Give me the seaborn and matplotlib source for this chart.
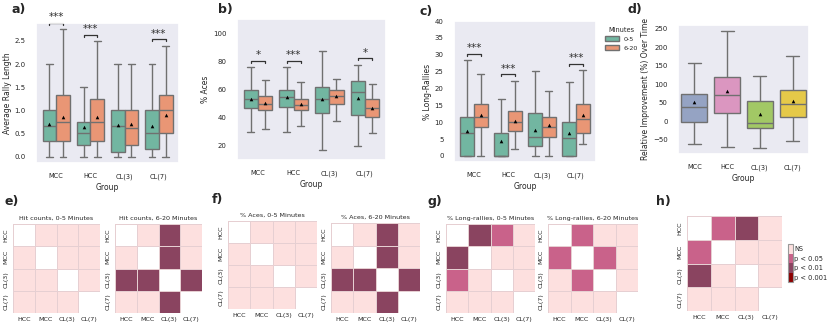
import numpy as np
import pandas as pd
import matplotlib.pyplot as plt
from matplotlib.colors import ListedColormap
import seaborn as sns

groups = ["MCC", "HCC", "CL(3)", "CL(7)"]
minutes = ["0-5", "6-20"]

# five-number summaries per group: min, q1, median, q3, max
rally_05 = [[0, 0.33, 0.66, 1.0, 2.0], [0, 0.25, 0.5, 0.75, 1.5],
            [0, 0.10, 0.66, 1.0, 2.0], [0, 0.17, 0.5, 1.0, 2.0]]
rally_620 = [[0, 0.33, 0.75, 1.33, 2.75], [0, 0.33, 0.75, 1.25, 2.5],
             [0, 0.25, 0.62, 1.0, 2.0], [0, 0.5, 1.0, 1.33, 2.4]]
rally_mean_05 = [0.71, 0.65, 0.69, 0.67]
rally_mean_620 = [0.85, 0.85, 0.70, 0.91]
rally_sig = ["***", "***", "", "***"]

aces_05 = [[30.1, 46.6, 53.0, 60.0, 75.8], [30.0, 47.8, 54.6, 60.0, 75.8],
           [17.0, 43.0, 53.6, 62.1, 87.0], [20.0, 41.9, 58.1, 65.9, 77.6]]
aces_620 = [[31.8, 45.4, 49.9, 55.3, 66.6], [34.1, 45.2, 49.2, 53.6, 65.4],
            [37.6, 49.9, 55.3, 59.5, 67.8], [29.4, 40.5, 46.6, 53.2, 64.2]]
aces_mean_05 = [53.4, 54.4, 53.4, 53.9]
aces_mean_620 = [50.4, 49.4, 55.3, 46.6]
aces_sig = ["*", "***", "", "*"]

long_05 = [[0, 0, 6.7, 11.6, 28.4], [0, 0, 0, 6.7, 16.8],
           [0, 3.0, 5.7, 12.6, 25.1], [0, 0, 5.2, 10.1, 21.8]]
long_620 = [[0, 8.5, 11.6, 15.4, 24.4], [2.2, 7.4, 10.1, 13.3, 22.3],
            [0, 5.7, 8.5, 11.6, 19.3], [3.4, 6.9, 10.9, 15.3, 25.4]]
long_mean_05 = [7.4, 4.5, 7.7, 6.9]
long_mean_620 = [12.0, 10.4, 9.2, 12.1]
long_sig = ["***", "***", "", "***"]

improve = [[-60.7, -1.8, 38.4, 73.2, 156.0], [-69.6, 20.5, 69.6, 119.6, 243.8],
           [-73.2, -19.6, -5.4, 55.4, 121.4], [-53.6, 10.7, 46.4, 83.0, 176.8]]
improve_mean = [50.9, 82.1, 19.6, 54.5]

# pairwise significance codes: 0 NS, 1 p<0.05, 2 p<0.01, 3 p<0.001
hm_labels = ["HCC", "MCC", "CL(3)", "CL(7)"]
nan = np.nan
hits_05 = [[nan, 0, 0, 0], [0, nan, 0, 0], [0, 0, nan, 0], [0, 0, 0, nan]]
hits_620 = [[nan, 0, 2, 0], [0, nan, 2, 0], [2, 2, nan, 2], [0, 0, 2, nan]]
acesp_05 = [[nan, 0, 0, 0], [0, nan, 0, 0], [0, 0, nan, 0], [0, 0, 0, nan]]
acesp_620 = [[nan, 0, 2, 0], [0, nan, 2, 0], [2, 2, nan, 2], [0, 0, 2, nan]]
longp_05 = [[nan, 2, 1, 0], [2, nan, 0, 0], [1, 0, nan, 0], [0, 0, 0, nan]]
longp_620 = [[nan, 1, 0, 0], [1, nan, 1, 0], [0, 1, nan, 0], [0, 0, 0, nan]]
improvep = [[nan, 1, 2, 0], [1, nan, 0, 0], [2, 0, nan, 0], [0, 0, 0, nan]]
sig_labels = ["NS", "p < 0.05", "p < 0.01", "p < 0.001"]

sns.set_theme(style="dark")
plt.rcParams['font.family'] = ['DejaVu Sans']
plt.rcParams['axes.labelsize'] = 5.5
plt.rcParams['xtick.labelsize'] = 4.8
plt.rcParams['ytick.labelsize'] = 5

fig = plt.figure(figsize=(8.3, 3.24), dpi=100)


def px_axes(l, t, r, b):
    return fig.add_axes([l / 830, 1 - b / 324, (r - l) / 830, (b - t) / 324])


pair_pal = ["#66c2a5", "#fc8d62"]


def box_panel(ax, s05, s620, m05, m620, ylabel, sig, ylim=None, legend=False):
    rows, mrows = [], []
    for i, g in enumerate(groups):
        for m, s, mm in ((minutes[0], s05, m05), (minutes[1], s620, m620)):
            for v in s[i]:
                rows.append({"Group": g, "Minutes": m, "value": v})
            mrows.append({"Group": g, "Minutes": m, "value": mm[i]})
    df = pd.DataFrame(rows)
    dm = pd.DataFrame(mrows)
    sns.boxplot(data=df, x="Group", y="value", hue="Minutes", palette=pair_pal,
                whis=(0, 100), showfliers=False, linewidth=1, linecolor="#707070",
                ax=ax, legend=legend)
    sns.stripplot(data=dm, x="Group", y="value", hue="Minutes", palette=["black", "black"],
                  dodge=True, jitter=False, marker="^", size=2.6, linewidth=0,
                  legend=False, ax=ax, zorder=5)
    if ylim is not None:
        ax.set_ylim(*ylim)
    else:
        ax.set_ylim(ax.get_ylim())
    lo, hi = ax.get_ylim()
    off = 0.045 * (hi - lo)
    tick = 0.015 * (hi - lo)
    for i, s in enumerate(sig):
        if not s:
            continue
        y = max(s05[i][-1], s620[i][-1]) + off
        ax.plot([i - 0.2, i - 0.2, i + 0.2, i + 0.2], [y - tick, y, y, y - tick],
                color="#333333", lw=0.9, clip_on=False)
        ax.text(i, y + 0.3 * tick, s, ha="center", va="bottom", fontsize=7.5, color="#333333")
    ax.set_ylabel(ylabel, labelpad=2)
    ax.set_xlabel("Group", labelpad=2)
    ax.tick_params(axis="both", pad=1.5)


ax_a = px_axes(36, 23, 179, 163)
box_panel(ax_a, rally_05, rally_620, rally_mean_05, rally_mean_620,
          "Average Rally Length", rally_sig)

ax_b = px_axes(237, 19, 386, 160)
box_panel(ax_b, aces_05, aces_620, aces_mean_05, aces_mean_620,
          "% Aces", aces_sig, ylim=(10, 110))

ax_c = px_axes(454, 21, 596, 162)
box_panel(ax_c, long_05, long_620, long_mean_05, long_mean_620,
          "% Long-Rallies", long_sig, ylim=(-1.8, 40), legend=True)
ax_c.set_yticks(np.arange(0, 41, 5))
sns.move_legend(ax_c, "upper left", bbox_to_anchor=(1.02, 1.0), frameon=False,
                title="Minutes", fontsize=4.6, title_fontsize=4.8,
                handlelength=2.2, handleheight=0.9, labelspacing=0.5)

# panel d
ax_d = px_axes(678, 25, 809, 154)
d_rows = [{"Group": g, "value": v} for i, g in enumerate(groups) for v in improve[i]]
d_df = pd.DataFrame(d_rows)
d_means = pd.DataFrame({"Group": groups, "value": improve_mean})
d_pal = sns.color_palette("Set2")[2:6]
sns.boxplot(data=d_df, x="Group", y="value", hue="Group", palette=d_pal, whis=(0, 100),
            showfliers=False, linewidth=1, linecolor="#707070", width=0.8,
            legend=False, ax=ax_d)
sns.stripplot(data=d_means, x="Group", y="value", color="black", jitter=False,
              marker="^", size=2.6, linewidth=0, ax=ax_d, zorder=5)
ax_d.set_ylabel("Relative Improvement (%) Over Time", labelpad=2)
ax_d.set_xlabel("Group", labelpad=2)
ax_d.set_yticks(np.arange(-50, 251, 50))
ax_d.tick_params(axis="both", pad=1.5)

# heatmaps
sig_cmap = ListedColormap(["#fde0df", "#c9628a", "#8a4460", "#8b0000"])


def heat(ax, mat, title, cax=None):
    sns.heatmap(np.array(mat, dtype=float), cmap=sig_cmap, vmin=-0.5, vmax=3.5,
                linewidths=0.6, linecolor="#e6cfd2", xticklabels=hm_labels,
                yticklabels=hm_labels, cbar=cax is not None, cbar_ax=cax,
                cbar_kws={"ticks": [0, 1, 2, 3]} if cax is not None else None, ax=ax)
    ax.set_facecolor("white")
    ax.tick_params(length=0, labelsize=4.6, pad=3)
    ax.set_yticklabels(hm_labels, rotation=90, va="center")
    ax.set_xticklabels(hm_labels, rotation=0)
    if title:
        ax.set_title(title, fontsize=4.6, pad=3)
    return ax


heat(px_axes(13, 224, 100, 313), hits_05, "Hit counts, 0-5 Minutes")
heat(px_axes(115, 224, 202, 313), hits_620, "Hit counts, 6-20 Minutes")
heat(px_axes(228, 221, 317, 309), acesp_05, "% Aces, 0-5 Minutes")
heat(px_axes(331, 223, 420, 313), acesp_620, "% Aces, 6-20 Minutes")
heat(px_axes(446, 224, 535, 313), longp_05, "% Long-rallies, 0-5 Minutes")
heat(px_axes(548, 224, 638, 313), longp_620, "% Long-rallies, 6-20 Minutes")
cax = px_axes(788, 244, 793, 282)
ax_h = heat(px_axes(687, 216, 782, 311), improvep, None, cax=cax)
cbar = ax_h.collections[0].colorbar
cbar.set_ticklabels(sig_labels)
cbar.ax.invert_yaxis()
cbar.ax.tick_params(length=0, labelsize=4.8, pad=1)
cbar.outline.set_edgecolor("#999999")
cbar.outline.set_linewidth(0.8)

letters = [("a)", 11, 9), ("b)", 218, 10), ("c)", 420, 12), ("d)", 627, 10),
           ("e)", 4, 202), ("f)", 212, 200), ("g)", 427, 202), ("h)", 656, 202)]
for t, x, y in letters:
    fig.text(x / 830, 1 - y / 324, t, fontsize=9, fontweight="bold", va="center")

fig.savefig("out.png", dpi=100)
